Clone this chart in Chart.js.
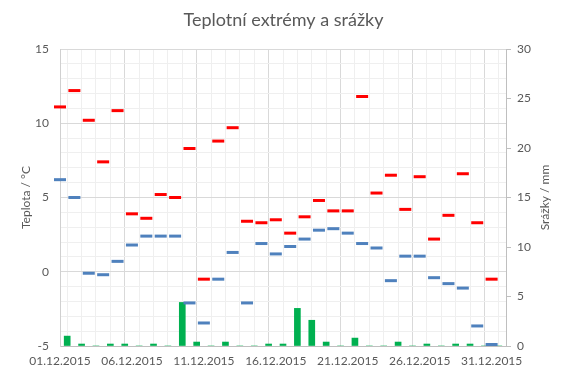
<!DOCTYPE html>
<html>
<head>
<meta charset="utf-8">
<script src="https://cdn.jsdelivr.net/npm/chart.js@4/dist/chart.umd.min.js"></script>
<style>
  html, body { margin: 0; padding: 0; background: #fff; }
  #wrap { width: 567px; height: 378px; }
</style>
</head>
<body>
<div id="wrap"><canvas id="myChart" width="567" height="378"></canvas></div>
<script>
// dny v prosinci 2015
var dates = ['01.12.2015', '02.12.2015', '03.12.2015', '04.12.2015', '05.12.2015', '06.12.2015', '07.12.2015',
    '08.12.2015', '09.12.2015', '10.12.2015', '11.12.2015', '12.12.2015', '13.12.2015', '14.12.2015',
    '15.12.2015', '16.12.2015', '17.12.2015', '18.12.2015', '19.12.2015', '20.12.2015', '21.12.2015',
    '22.12.2015', '23.12.2015', '24.12.2015', '25.12.2015', '26.12.2015', '27.12.2015', '28.12.2015',
    '29.12.2015', '30.12.2015', '31.12.2015'];

// maximalni teplota (°C)
var tMax = [11.1, 12.2, 10.2, 7.4, 10.85, 3.9, 3.6, 5.2, 5.0, 8.3, -0.5, 8.8, 9.7, 3.4, 3.3, 3.5,
    2.6, 3.7, 4.8, 4.1, 4.1, 11.8, 5.3, 6.5, 4.2, 6.4, 2.2, 3.8, 6.6, 3.3, -0.5];

// minimalni teplota (°C)
var tMin = [6.2, 5.0, -0.1, -0.2, 0.7, 1.8, 2.4, 2.4, 2.4, -2.1, -3.45, -0.5, 1.3, -2.1, 1.9, 1.2,
    1.7, 2.2, 2.8, 2.9, 2.6, 1.9, 1.6, -0.6, 1.05, 1.05, -0.4, -0.8, -1.1, -3.65, -4.9];

// srazky (mm)
var rain = [1.0, 0.2, 0, 0.2, 0.2, 0, 0.2, 0, 4.4, 0.4, 0, 0.4, 0, 0, 0.2, 0.2,
    3.8, 2.6, 0.4, 0, 0.8, 0, 0, 0.4, 0, 0.2, 0, 0.2, 0.2, 0, 0];

var textColor = '#595959';
var fontFamily = 'Lato, "Liberation Sans", sans-serif';

// teploty sedi na carach dne, sloupce srazek uprostred dne
var maxPoints = tMax.map(function (v, i) { return { x: i, y: v }; });
var minPoints = tMin.map(function (v, i) { return { x: i, y: v }; });
var rainPoints = rain.map(function (v, i) { return { x: i + 0.5, y: v }; });

function gridColor(c) {
    if (!c.tick) return '#d9d9d9';
    return Math.round(c.tick.value) % 5 === 0 ? '#d9d9d9' : '#efefef';
}

// popisek prave osy cteny zdola nahoru (jako v Excelu)
var rightTitle = {
    id: 'rightTitle',
    afterDraw: function (chart) {
        var ctx = chart.ctx;
        ctx.save();
        ctx.translate(545, (chart.chartArea.top + chart.chartArea.bottom) / 2);
        ctx.rotate(-Math.PI / 2);
        ctx.fillStyle = textColor;
        ctx.font = '12px ' + fontFamily;
        ctx.textAlign = 'center';
        ctx.textBaseline = 'middle';
        ctx.fillText('Srážky / mm', 0, 0);
        ctx.restore();
    }
};

var ctx = document.getElementById('myChart').getContext('2d');
var myChart = new Chart(ctx, {
    type: 'bar',
    data: {
        datasets: [{
            type: 'line',
            label: 'Max',
            data: maxPoints,
            showLine: false,
            clip: false,
            pointStyle: 'line',
            pointRadius: 6,
            pointBorderWidth: 3,
            borderColor: '#ff0000',
            backgroundColor: '#ff0000',
            yAxisID: 'y'
        }, {
            type: 'line',
            label: 'Min',
            data: minPoints,
            showLine: false,
            clip: false,
            pointStyle: 'line',
            pointRadius: 6,
            pointBorderWidth: 3,
            borderColor: '#4f81bd',
            backgroundColor: '#4f81bd',
            yAxisID: 'y'
        }, {
            type: 'bar',
            label: 'Srážky',
            data: rainPoints,
            backgroundColor: '#00b050',
            barThickness: 6,
            yAxisID: 'y2'
        }]
    },
    options: {
        responsive: false,
        animation: false,
        events: [],
        layout: { padding: 0 },
        plugins: {
            legend: { display: false },
            tooltip: { enabled: false },
            title: {
                display: true,
                text: 'Teplotní extrémy a srážky',
                color: textColor,
                font: { family: fontFamily, size: 18, weight: 'normal' },
                padding: { top: 9, bottom: 18.4 }
            }
        },
        scales: {
            x: {
                type: 'linear',
                min: 0,
                max: 31,
                offset: false,
                afterFit: function (scale) { scale.height = 32; },
                ticks: {
                    stepSize: 1,
                    autoSkip: false,
                    maxRotation: 0,
                    padding: 8,
                    color: textColor,
                    font: { family: fontFamily, size: 12 },
                    callback: function (v) { return (v % 5 === 0 && dates[v]) ? dates[v] : ''; }
                },
                grid: {
                    drawTicks: false,
                    color: gridColor
                },
                border: { color: '#bfbfbf' }
            },
            y: {
                position: 'left',
                min: -5,
                max: 15,
                afterFit: function (scale) { scale.width = 60; },
                ticks: {
                    stepSize: 1,
                    autoSkip: false,
                    padding: 11,
                    color: textColor,
                    font: { family: fontFamily, size: 12 },
                    callback: function (v) { return v % 5 === 0 ? v : ''; }
                },
                grid: {
                    drawTicks: false,
                    color: gridColor
                },
                border: { color: '#d0d0d0' },
                title: {
                    display: true,
                    text: 'Teplota / °C',
                    color: textColor,
                    font: { family: fontFamily, size: 12 },
                    padding: { top: 19, bottom: 0 }
                }
            },
            y2: {
                position: 'right',
                min: 0,
                max: 30,
                afterFit: function (scale) { scale.width = 61; },
                ticks: {
                    stepSize: 5,
                    padding: 6,
                    color: textColor,
                    font: { family: fontFamily, size: 12 }
                },
                grid: {
                    drawOnChartArea: false,
                    tickLength: 5,
                    color: '#bfbfbf'
                },
                border: { color: '#bfbfbf' }
            }
        }
    },
    plugins: [rightTitle]
});
</script>
</body>
</html>
